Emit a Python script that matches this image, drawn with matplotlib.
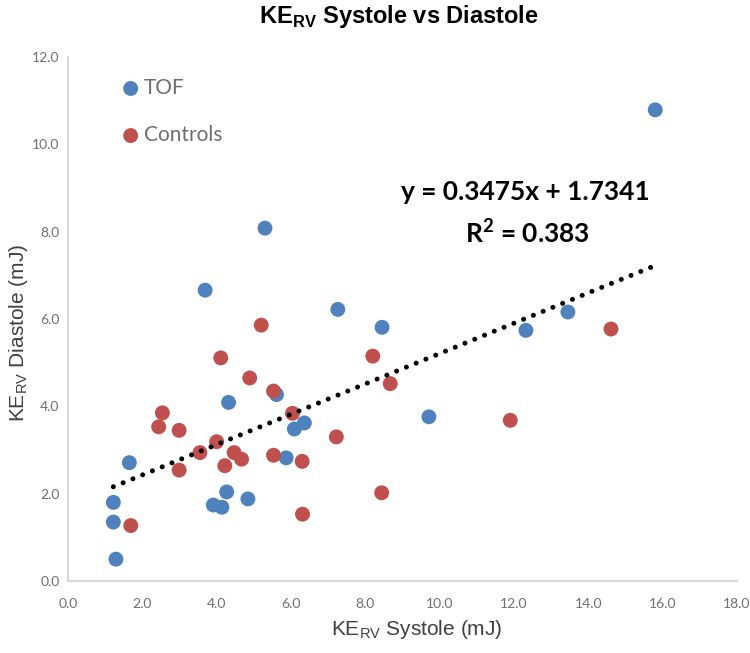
import numpy as np
import matplotlib
matplotlib.use("Agg")
import matplotlib.pyplot as plt

# ---- data ----
tof_x = [1.22, 1.22, 1.29, 1.65, 3.69, 3.91, 4.14, 4.27, 4.32, 4.84, 5.30,
         5.61, 5.87, 6.09, 6.36, 7.26, 8.45, 9.71, 12.32, 13.45, 15.80]
tof_y = [1.80, 1.35, 0.50, 2.71, 6.66, 1.74, 1.69, 2.04, 4.09, 1.88, 8.08,
         4.27, 2.82, 3.48, 3.62, 6.22, 5.81, 3.76, 5.74, 6.16, 10.79]

ctrl_x = [1.69, 2.44, 2.54, 2.99, 2.99, 3.55, 4.00, 4.11, 4.22, 4.47, 4.67,
          4.89, 5.20, 5.53, 5.53, 6.04, 6.30, 6.31, 7.22, 8.20, 8.44, 8.67,
          11.90, 14.61]
ctrl_y = [1.27, 3.53, 3.85, 3.45, 2.54, 2.94, 3.19, 5.11, 2.64, 2.94, 2.79,
          4.65, 5.86, 4.35, 2.88, 3.84, 2.74, 1.53, 3.30, 5.15, 2.02, 4.52,
          3.68, 5.77]

slope = 0.3475
intercept = 1.7341
r_squared = 0.383

x_ticks = [0, 2, 4, 6, 8, 10, 12, 14, 16, 18]
y_ticks = [0, 2, 4, 6, 8, 10, 12]
series_labels = ["TOF", "Controls"]

# ---- styling ----
BLUE = "#4F81BD"
RED = "#C0504D"
AXIS_GRAY = "#D9D9D9"
TICK_GRAY = "#6E6E6E"
LABEL_GRAY = "#404040"
CAL = ["Lato", "DejaVu Sans"]
ARIAL = ["Liberation Sans", "DejaVu Sans"]

W, H = 750, 653
fig = plt.figure(figsize=(7.5, 6.53), dpi=100)
ax = fig.add_axes([68 / W, 1 - 581 / H, (737 - 68) / W, (581 - 57) / H])

ax.scatter(tof_x, tof_y, s=115, color=BLUE, edgecolors="none", label=series_labels[0], zorder=3)
ax.scatter(ctrl_x, ctrl_y, s=115, color=RED, edgecolors="none", label=series_labels[1], zorder=3)

all_x = np.array(tof_x + ctrl_x)
tx = np.linspace(all_x.min(), all_x.max(), 200)
ax.plot(tx, slope * tx + intercept, color="black", lw=3.6,
        linestyle=(0, (0.01, 2.1)), dash_capstyle="round", zorder=4)

ax.set_xlim(0, 18)
ax.set_ylim(0, 12)
ax.set_xticks(x_ticks)
ax.set_yticks(y_ticks)
ax.set_xticklabels([f"{v:.1f}" for v in x_ticks], fontfamily=CAL, fontsize=10, color=TICK_GRAY)
ax.set_yticklabels([f"{v:.1f}" for v in y_ticks], fontfamily=CAL, fontsize=10, color=TICK_GRAY)
ax.tick_params(axis="x", length=0, pad=12.5)
ax.tick_params(axis="y", length=0, pad=6)

for side in ["top", "right"]:
    ax.spines[side].set_visible(False)
for side in ["left", "bottom"]:
    ax.spines[side].set_color(AXIS_GRAY)
    ax.spines[side].set_linewidth(1.5)

ax.set_xlabel(r"KE$_{\mathregular{RV}}$ Systole (mJ)", fontfamily=ARIAL, fontsize=15,
              color=LABEL_GRAY)
ax.set_ylabel(r"KE$_{\mathregular{RV}}$ Diastole (mJ)", fontfamily=ARIAL, fontsize=15,
              color=LABEL_GRAY)
ax.xaxis.set_label_coords((417 - 68) / 669, (581 - 618) / 524)
ax.yaxis.set_label_coords((30 - 68) / 669, (581 - 333) / 524)

fig.text(399 / W, 1 - 17 / H, r"KE$_{\mathregular{RV}}$ Systole vs Diastole",
         fontfamily=ARIAL, fontsize=17, fontweight="bold", ha="center", va="center")

fig.text(525 / W, 1 - 192 / H, f"y = {slope}x + {intercept}", fontfamily=CAL,
         fontsize=19, fontweight="bold", ha="center", va="center")
fig.text(527 / W, 1 - 233 / H, f"R$^{{\\mathregular{{2}}}}$ = {r_squared}", fontfamily=CAL,
         fontsize=19, fontweight="bold", ha="center", va="center")

leg = ax.legend(loc="upper left", bbox_to_anchor=(0.075, 0.96), frameon=False,
                prop={"family": CAL, "size": 15}, labelcolor=TICK_GRAY,
                handletextpad=0.05, labelspacing=1.3, scatterpoints=1,
                borderaxespad=0, borderpad=0, handlelength=1.2)

fig.savefig("out.png", dpi=100, facecolor="white")
